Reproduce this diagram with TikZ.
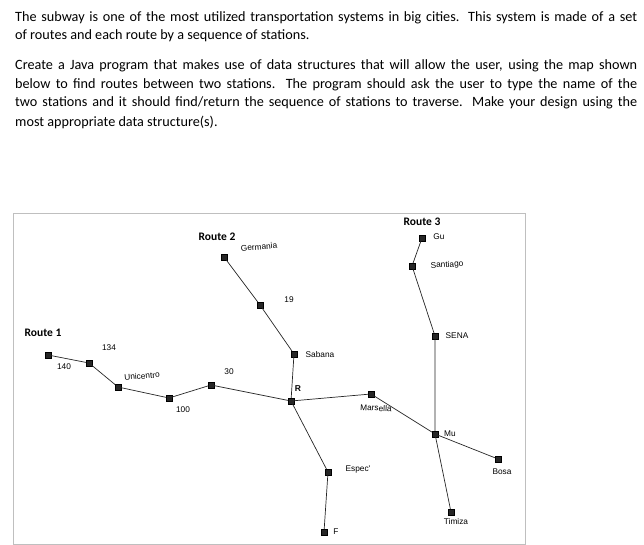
\documentclass[tikz,border=0pt]{standalone}
\usepackage{fontspec}
\setmainfont{Carlito}
\newfontfamily\mapfont{Liberation Sans}
\begin{document}
\begin{tikzpicture}[x=1pt,y=-1pt,
  st/.style={draw=black,fill=black!85,minimum size=5.5pt,inner sep=0pt,rectangle},
  ln/.style={line width=0.7pt,black!85},
  lab/.style={font=\mapfont\fontsize{8.3}{10}\selectfont,inner sep=0pt},
  rt/.style={font=\bfseries\fontsize{11.5}{13}\selectfont,inner sep=0pt},
  para/.style={anchor=west,inner sep=0pt,font=\fontsize{14.2}{16}\selectfont}]
\useasboundingbox (0,0) rectangle (644,545);
\node[para] (l1) at (15,18) {\makebox[622pt][s]{The subway is one of the most utilized transportation systems in big cities. This system is made of a set}};
\node[para] (l2) at (15,36) {of routes and each route by a sequence of stations.};
\node[para] (l3) at (15,66) {\makebox[622pt][s]{Create a Java program that makes use of data structures that will allow the user, using the map shown}};
\node[para] (l4) at (15,85) {\makebox[622pt][s]{below to find routes between two stations. The program should ask the user to type the name of the}};
\node[para] (l5) at (15,103) {\makebox[622pt][s]{two stations and it should find/return the sequence of stations to traverse. Make your design using the}};
\node[para] (l6) at (15,122) {most appropriate data structure(s).};
\draw[black!25,line width=0.8pt] (13,213) rectangle (525,544);
% stations
\node[st] (a) at (48,355) {};
\node[st] (b) at (89,363) {};
\node[st] (uni) at (118,387) {};
\node[st] (d) at (169,398) {};
\node[st] (e) at (211,385) {};
\node[st] (r) at (291,401) {};
\node[st] (ger) at (224,257) {};
\node[st] (n19) at (260,305) {};
\node[st] (sab) at (294,354) {};
\node[st] (esp) at (328,472) {};
\node[st] (f) at (324,532) {};
\node[st] (mar) at (371,394) {};
\node[st] (mu) at (435,434) {};
\node[st] (bosa) at (498,459) {};
\node[st] (gu) at (422,238) {};
\node[st] (san) at (412,266) {};
\node[st] (sena) at (435,336) {};
\node[st] (tim) at (451,512) {};
\draw[ln] (a)--(b)--(uni)--(d)--(e)--(r);
\draw[ln] (ger)--(n19)--(sab)--(r);
\draw[ln] (r)--(esp)--(f);
\draw[ln] (r)--(mar)--(mu)--(bosa);
\draw[ln] (gu)--(san)--(sena)--(mu)--(tim);
% labels
\node[rt] (r1) at (43,333) {Route 1};
\node[rt] (r2) at (217,237) {Route 2};
\node[rt] (r3) at (422,222) {Route 3};
\node[lab,rotate=5] (tger) at (259,247) {Germania};
\node[lab] (t19) at (289,300) {19};
\node[lab] (tsab) at (320,355) {Sabana};
\node[lab] (t134) at (109,348) {134};
\node[lab] (t140) at (64,367) {140};
\node[lab,rotate=5] (tuni) at (142,376) {Unicentro};
\node[lab] (t30) at (229,372) {30};
\node[lab] (t100) at (183,410) {100};
\node[lab,font=\mapfont\bfseries\fontsize{8.5}{10}\selectfont] (tr) at (298,389) {R};
\node[lab,rotate=-3] (tmar) at (376,408) {Marsella};
\node[lab] (tesp) at (358,470) {Espec'};
\node[lab] (tf) at (336,532) {F};
\node[lab,rotate=3] (tsan) at (447,265) {Santiago};
\node[lab] (tsena) at (457,336) {SENA};
\node[lab] (tmu) at (450,434) {Mu};
\node[lab] (tbosa) at (502,472) {Bosa};
\node[lab] (ttim) at (456,522) {Timiza};
\node[lab] (tgu) at (439,237) {Gu};
\end{tikzpicture}
\end{document}
